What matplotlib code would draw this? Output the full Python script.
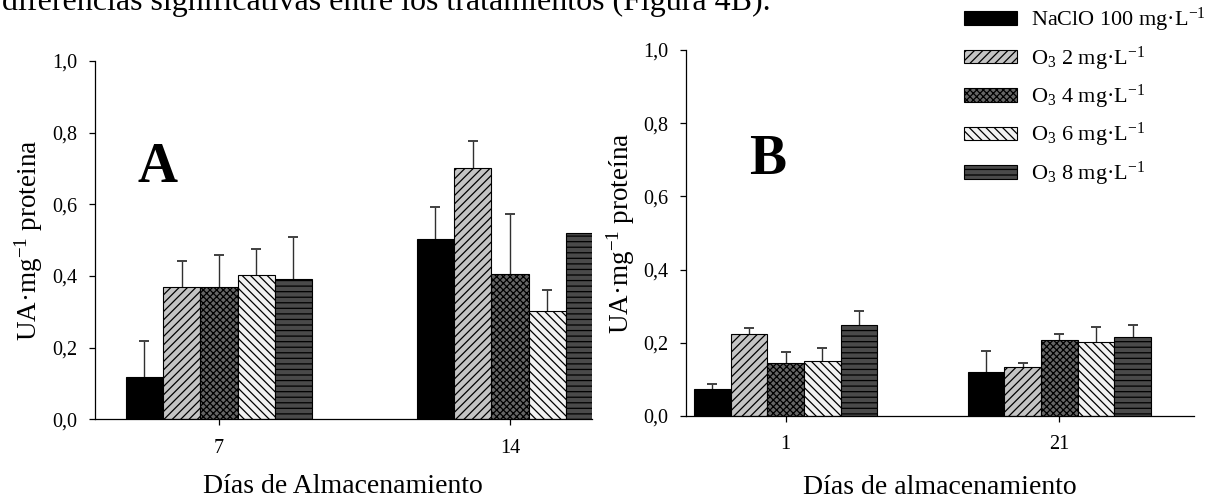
import matplotlib
import matplotlib.pyplot as plt
import numpy as np
from matplotlib.patches import Patch
matplotlib.use("Agg")

plt.rcParams['font.family'] = ['Liberation Serif', 'DejaVu Serif']
plt.rcParams['mathtext.default'] = 'regular'
plt.rcParams['hatch.linewidth'] = 0.9

# treatments (same order in both panels)
treatments = ['NaClO 100 mg·L$^{-1}$', 'O$_3$ 2 mg·L$^{-1}$', 'O$_3$ 4 mg·L$^{-1}$',
              'O$_3$ 6 mg·L$^{-1}$', 'O$_3$ 8 mg·L$^{-1}$']

# panel A: days 7 and 14
days_a = ['7', '14']
mean_a = [
    [0.119, 0.502],
    [0.370, 0.700],
    [0.369, 0.406],
    [0.403, 0.303],
    [0.392, 0.519],
]
sd_a = [
    [0.100, 0.091],
    [0.072, 0.077],
    [0.089, 0.168],
    [0.073, 0.057],
    [0.117, np.nan],
]

# panel B: days 1 and 21
days_b = ['1', '21']
mean_b = [
    [0.074, 0.120],
    [0.223, 0.135],
    [0.146, 0.208],
    [0.151, 0.203],
    [0.250, 0.216],
]
sd_b = [
    [0.014, 0.057],
    [0.017, 0.009],
    [0.028, 0.015],
    [0.036, 0.039],
    [0.036, 0.032],
]

faces = ['black', '#c4c4c4', '#666666', '#f2f2f2', '#4a4a4a']
hatches = [None, '////', 'xxxxx', '\\\\\\\\', '---']

W, H = 1217, 500


def panel(ax, days, means, sds, width, xlim, xlabel, ylabel, letter, letter_x, labelpad):
    x = np.arange(len(days))
    for i in range(len(means)):
        pos = x + (i - 2) * width
        m = np.array(means[i])
        err = np.array(sds[i])
        ax.bar(pos, m, width, color=faces[i], edgecolor='black',
               linewidth=0.8, hatch=hatches[i], zorder=2)
        # upper error only: stem plus cap
        ok = ~np.isnan(err)
        ax.vlines(pos[ok], m[ok], m[ok] + err[ok], color='#303030',
                  linewidth=1.0, zorder=1)
        ax.plot(pos[ok], m[ok] + err[ok], ls='none', marker='_', ms=7.5,
                mew=1.4, color='#404040', zorder=1)
    ax.set_xlim(*xlim)
    ax.set_ylim(0, 1.0)
    ax.set_xticks(x)
    ax.set_xticklabels(days)
    ax.set_yticks(np.arange(0, 1.01, 0.2))
    ax.set_yticklabels([f'{v:.1f}'.replace('.', ',') for v in np.arange(0, 1.01, 0.2)])
    for s in ['top', 'right']:
        ax.spines[s].set_visible(False)
    for s in ['left', 'bottom']:
        ax.spines[s].set_linewidth(0.9)
    ax.tick_params(axis='both', direction='out', length=4, width=0.9, labelsize=14.5)
    ax.tick_params(axis='x', pad=10)
    ax.tick_params(axis='y', pad=8.5)
    ax.set_xlabel(xlabel, fontsize=20, labelpad=labelpad)
    ax.set_ylabel(ylabel, fontsize=19.5)
    ax.text(letter_x, 0.662, letter, transform=ax.transAxes, fontsize=40,
            fontweight='bold', ha='center', va='baseline')


fig = plt.figure(figsize=(W / 100, H / 100), dpi=100)

ax_a = fig.add_axes([95 / W, 1 - 419.3 / H, 496.7 / W, 358.3 / H])
panel(ax_a, days_a, mean_a, sd_a, 0.128, (-0.426, 1.281),
      'Días de Almacenamiento', 'UA·mg$^{-1}$ proteina', 'A', 0.125, 12)
ax_a.yaxis.set_label_coords(-0.101, 0.5)

ax_b = fig.add_axes([685.7 / W, 1 - 416 / H, 508.6 / W, 366 / H])
panel(ax_b, days_b, mean_b, sd_b, 0.134, (-0.3655, 1.4934),
      'Días de almacenamiento', 'UA·mg$^{-1}$ proteína', 'B', 0.16, 15)
ax_b.yaxis.set_label_coords(-0.096, 0.5)

handles = [Patch(facecolor=faces[i], edgecolor='black', linewidth=0.8,
                 hatch=hatches[i]) for i in range(len(treatments))]
fig.legend(handles, treatments, loc='upper left', bbox_to_anchor=(964 / W, 0.988),
           frameon=False, fontsize=16, handlelength=2.4, handleheight=0.55,
           handletextpad=0.6, labelspacing=0.46, borderpad=0, borderaxespad=0)

# running text of the page, cut by the top edge
fig.text(0.002, 1 - 10 / H, 'diferencias significativas entre los tratamientos (Figura 4B).',
         fontsize=23, ha='left', va='baseline')

fig.savefig('out.png', dpi=100)
